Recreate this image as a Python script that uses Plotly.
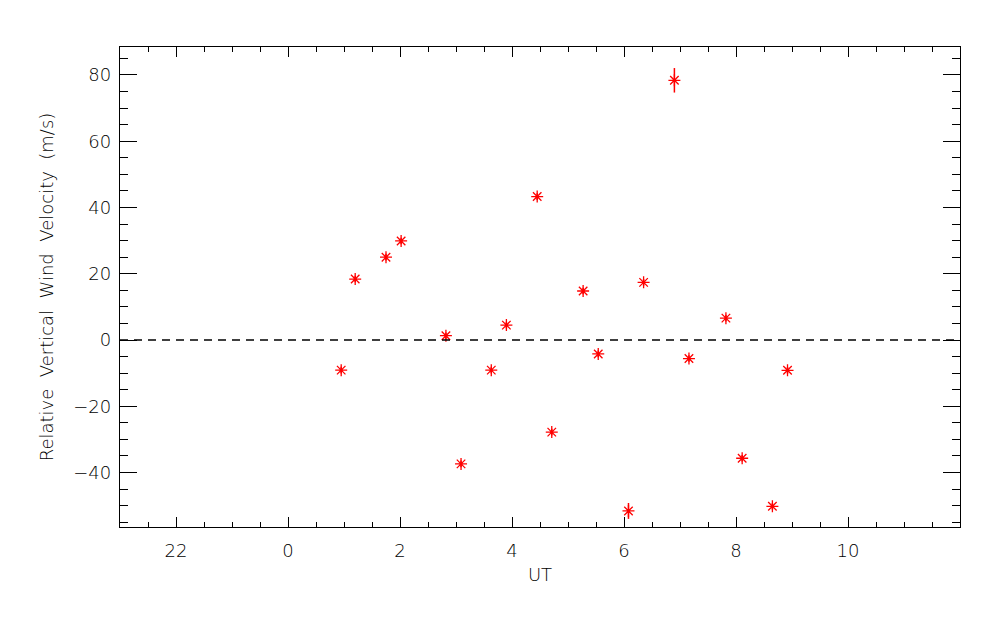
import plotly.graph_objects as go

# UT hours (negative = previous day, e.g. -2 -> 22)
ut = [0.95, 1.20, 1.75, 2.02, 2.82, 3.09, 3.63, 3.90, 4.45, 4.71, 5.27,
      5.54, 6.08, 6.35, 6.90, 7.16, 7.82, 8.11, 8.65, 8.92]
velocity = [-9.1, 18.4, 25.0, 29.9, 1.3, -37.4, -9.1, 4.5, 43.3, -27.8, 14.8,
            -4.2, -51.6, 17.4, 78.4, -5.6, 6.6, -35.7, -50.2, -9.15]
vel_err = [1.0, 1.0, 1.0, 1.0, 1.0, 1.0, 1.0, 1.0, 1.0, 1.0, 1.0,
           1.0, 2.4, 1.0, 3.7, 1.0, 1.0, 1.0, 1.0, 1.0]

x_tickvals = [-2, 0, 2, 4, 6, 8, 10]
x_ticktext = ["22", "0", "2", "4", "6", "8", "10"]
y_tickvals = [-40, -20, 0, 20, 40, 60, 80]
y_ticktext = ["\u221240", "\u221220", "0", "20", "40", "60", "80"]

font = dict(family="DejaVu Sans, Liberation Sans, sans-serif", size=18, color="black",
            weight=200)

fig = go.Figure()
fig.add_trace(go.Scatter(
    x=ut, y=velocity, mode="markers",
    marker=dict(symbol="asterisk-open", size=10, color="red",
                line=dict(color="red", width=1.3)),
    error_y=dict(type="data", array=vel_err, visible=True, color="red",
                 thickness=1.5, width=0),
    showlegend=False,
))

fig.add_shape(type="line", xref="paper", x0=0, x1=1, yref="y", y0=0, y1=0,
              line=dict(color="black", width=1.5, dash="8px,6px"))

axis_common = dict(
    showline=True, linecolor="black", linewidth=1.3, mirror="ticks",
    ticks="inside", tickcolor="black", tickwidth=1.3,
    showgrid=False, zeroline=False, tickfont=font,
)

fig.update_xaxes(
    range=[-3, 12], tickmode="array", tickvals=x_tickvals, ticktext=x_ticktext,
    ticklen=10, ticklabelstandoff=7,
    minor=dict(dtick=0.5, tick0=0, ticks="inside", ticklen=5, tickcolor="black", tickwidth=1.3),
    title=dict(text="UT", font=font, standoff=8),
    **axis_common,
)
fig.update_yaxes(
    range=[-56.45, 88.45], tickmode="array", tickvals=y_tickvals, ticktext=y_ticktext,
    ticklen=17, ticklabelstandoff=4,
    minor=dict(dtick=5, tick0=0, ticks="inside", ticklen=8, tickcolor="black", tickwidth=1.3),
    title=dict(text="Relative  Vertical  Wind  Velocity  (m/s)", font=font, standoff=14),
    **axis_common,
)

fig.update_layout(
    width=1000, height=625,
    margin=dict(l=112, r=48, t=39, b=106, autoexpand=False),
    plot_bgcolor="white", paper_bgcolor="white",
    font=font,
)

fig.write_html("out.html")
